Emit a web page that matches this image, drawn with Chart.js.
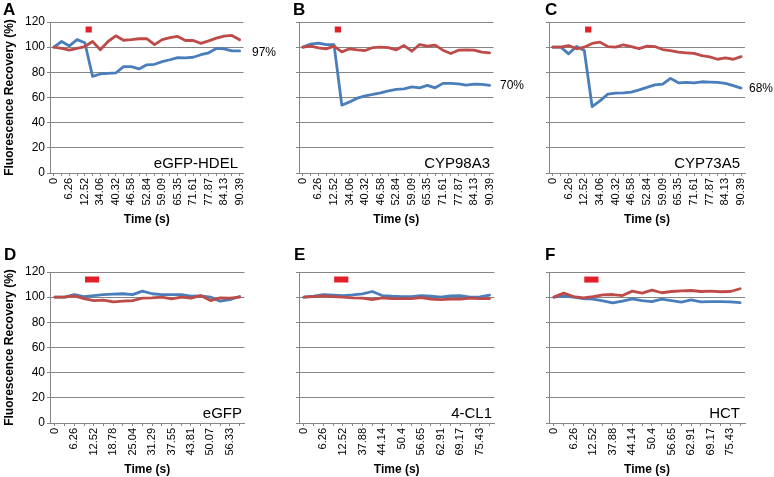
<!DOCTYPE html>
<html>
<head>
<meta charset="utf-8">
<script src="https://cdn.jsdelivr.net/npm/chart.js@4.4.1/dist/chart.umd.min.js"></script>
<style>
    body { margin: 0; background: #fff; font-family: "Liberation Sans", Arial, sans-serif; }
    #fig { position: relative; width: 774px; height: 477px; overflow: hidden; background: #fff; }
    .txt { position: absolute; white-space: nowrap; color: #000; }
    .letter { font-weight: bold; font-size: 17px; line-height: 17px; }
    .gene { font-size: 15px; line-height: 15px; text-align: right; }
    .pct { font-size: 12px; line-height: 12px; }
</style>
</head>
<body>
<div id="fig">
    <div class="txt letter" style="left:3px;top:1px">A</div>
    <div class="txt letter" style="left:293px;top:1px">B</div>
    <div class="txt letter" style="left:545px;top:1px">C</div>
    <div class="txt letter" style="left:4px;top:246px">D</div>
    <div class="txt letter" style="left:294px;top:246px">E</div>
    <div class="txt letter" style="left:545px;top:246px">F</div>

    <div class="txt gene" style="right:536px;top:155px">eGFP-HDEL</div>
    <div class="txt gene" style="right:284px;top:155px">CYP98A3</div>
    <div class="txt gene" style="right:34px;top:155px">CYP73A5</div>
    <div class="txt gene" style="right:532px;top:405px">eGFP</div>
    <div class="txt gene" style="right:282px;top:405px">4-CL1</div>
    <div class="txt gene" style="right:34px;top:405px">HCT</div>

    <div class="txt pct" style="left:252px;top:46px">97%</div>
    <div class="txt pct" style="left:500px;top:79px">70%</div>
    <div class="txt pct" style="left:749px;top:82px">68%</div>
</div>
<script>
// time labels (s) per category
const timeTop = ["0", "3.13", "6.26", "9.39", "12.52", "30.93", "34.06", "37.19", "40.32", "43.45",
    "46.58", "49.71", "52.84", "55.97", "59.09", "62.22", "65.35", "68.48", "71.61", "74.74",
    "77.87", "81.00", "84.13", "87.26", "90.39"];
const timeD = ["0", "3.13", "6.26", "9.39", "12.52", "15.65", "18.78", "21.91", "25.04", "28.16",
    "31.29", "34.42", "37.55", "40.68", "43.81", "46.94", "50.07", "53.20", "56.33", "59.46"];
const timeEF = ["0", "3.13", "6.26", "9.39", "12.52", "34.75", "37.88", "41.01", "44.14", "47.27",
    "50.4", "53.52", "56.65", "59.78", "62.91", "66.04", "69.17", "72.30", "75.43", "78.56"];

// bleached region (blue) and unbleached control (red), % recovery
const hdelBleach = [100, 104.5, 101, 106, 103.5, 76.8, 78.7, 79.2, 79.5, 84.5, 84.5, 82.7, 86, 86.4, 88.5, 90, 91.7, 91.5, 92, 94, 95.5, 99, 98.7, 97, 97];
const hdelControl = [100, 99, 97.6, 99, 100.5, 104.5, 98, 104.5, 109, 105.5, 106, 106.7, 106.7, 102, 106, 107.5, 108.5, 105.3, 105.3, 103, 105, 107.2, 108.8, 109.3, 105.9];
const cyp98Bleach = [100, 102.4, 103.2, 102, 102, 53.9, 56.5, 59.5, 61.3, 62.4, 63.7, 65.3, 66.4, 66.9, 68.5, 67.7, 69.6, 67.7, 71.2, 71.2, 70.9, 69.9, 70.7, 70.4, 69.6];
const cyp98Control = [100, 100.8, 99.5, 98.7, 100.8, 96.3, 98.7, 97.9, 97.3, 99.7, 100, 99.7, 97.9, 101.3, 96.8, 102.1, 100.8, 101.6, 97.6, 94.9, 97.6, 97.9, 97.6, 96, 95.5];
const cyp73Bleach = [100, 100, 94.7, 100.5, 97.3, 52.8, 57.3, 62.7, 63.5, 63.7, 64.3, 66, 68, 70, 70.6, 75.2, 71.7, 72, 71.7, 72.5, 72.2, 72, 71.2, 69.5, 67.5];
const cyp73Control = [100, 100, 101.3, 98.7, 100, 103, 104, 100.5, 100, 101.9, 100.5, 98.9, 100.8, 100.5, 98.1, 97.3, 96, 95.5, 95, 93.3, 92.3, 90.4, 91.5, 90.4, 92.5];
const egfpBleach = [100, 100, 102, 100.5, 101.3, 102, 102.4, 102.7, 102, 104.8, 102.7, 102, 102, 102, 100.8, 101, 100, 96.8, 98.1, 100.5];
const egfpControl = [100, 100, 101, 98.9, 97.3, 97.6, 96.3, 96.8, 97.3, 99.2, 99.5, 100, 98.7, 100, 99.2, 101.3, 97.3, 99.5, 99.2, 100];
const cl1Bleach = [100, 100.8, 102, 101.6, 101.3, 101.9, 102.7, 104.5, 101.3, 100.8, 100.5, 100.5, 101.3, 100.8, 100, 101, 101.3, 100, 100.3, 101.6];
const cl1Control = [100, 100.5, 101, 100.5, 100, 99.5, 99.2, 98.1, 99.5, 98.9, 98.9, 98.9, 99.7, 98.4, 98.1, 98.4, 98.4, 99.2, 98.9, 98.9];
const hctBleach = [100, 100.8, 100, 98.9, 98.4, 97, 95.5, 96.8, 98.7, 97.3, 96.5, 98.4, 97.3, 96, 97.9, 96.3, 96.5, 96.5, 96.3, 95.7];
const hctControl = [100, 103.2, 100.5, 99.5, 100.5, 101.9, 102.1, 101.3, 104.8, 103.2, 105.6, 103.5, 104.5, 105, 105.3, 104.5, 104.8, 104.3, 104.5, 106.7];

// bleach pulse: start/end category position, drawn at this level
const pulseTop = [4.1, 4.9];
const pulseBottom = [3.1, 4.55];
const pulseLevel = 114;

const BLUE = "#4a7ebb";
const RED = "#be4b48";
const PULSE = "#e3202a";
const GRID = "#868686";
const FONT = "'Liberation Sans', Arial, sans-serif";

const fig = document.getElementById("fig");

const panels = [
    { left: 0, top: 0, w: 255, h: 240, pl: 50, pr: 247, pt: 22, pb: 173, xh: 62, tpad: 8, labels: timeTop, blue: hdelBleach, red: hdelControl, pulse: pulseTop, yLab: true },
    { left: 255, top: 0, w: 250, h: 240, pl: 299, pr: 495, pt: 22, pb: 173, xh: 62, tpad: 8, labels: timeTop, blue: cyp98Bleach, red: cyp98Control, pulse: pulseTop, yLab: false },
    { left: 505, top: 0, w: 269, h: 240, pl: 549, pr: 745, pt: 22, pb: 173, xh: 62, tpad: 8, labels: timeTop, blue: cyp73Bleach, red: cyp73Control, pulse: pulseTop, yLab: false },
    { left: 0, top: 240, w: 255, h: 237, pl: 50, pr: 247, pt: 272, pb: 423, xh: 54, tpad: 0, labels: timeD, blue: egfpBleach, red: egfpControl, pulse: pulseBottom, yLab: true },
    { left: 255, top: 240, w: 250, h: 237, pl: 299, pr: 495, pt: 272, pb: 423, xh: 54, tpad: 0, labels: timeEF, blue: cl1Bleach, red: cl1Control, pulse: pulseBottom, yLab: false },
    { left: 505, top: 240, w: 269, h: 237, pl: 549, pr: 745, pt: 272, pb: 423, xh: 54, tpad: 0, labels: timeEF, blue: hctBleach, red: hctControl, pulse: pulseBottom, yLab: false },
];

function drawPanel(p) {
    const cv = document.createElement("canvas");
    cv.width = p.w;
    cv.height = p.h;
    cv.style.cssText = `position:absolute;left:${p.left}px;top:${p.top}px;width:${p.w}px;height:${p.h}px`;
    fig.insertBefore(cv, fig.firstChild);

    const pts = (arr) => arr.map((v, i) => ({ x: i, y: v }));
    const lineStyle = { pointRadius: 0, borderWidth: 2.8, tension: 0, borderJoinStyle: "round", borderCapStyle: "round", fill: false };

    new Chart(cv, {
        type: "line",
        data: {
            datasets: [
                { ...lineStyle, label: "control", data: pts(p.red), borderColor: RED },
                { ...lineStyle, label: "bleached", data: pts(p.blue), borderColor: BLUE },
                {
                    label: "pulse",
                    data: p.pulse.map((x) => ({ x, y: pulseLevel })),
                    borderColor: PULSE,
                    borderWidth: 6,
                    borderCapStyle: "butt",
                    pointRadius: 0,
                },
            ],
        },
        options: {
            responsive: false,
            animation: false,
            events: [],
            layout: {
                padding: {
                    left: 0,
                    top: p.pt - p.top,
                    right: p.left + p.w - p.pr,
                    bottom: p.top + p.h - p.pb - p.xh,
                },
            },
            plugins: { legend: { display: false }, tooltip: { enabled: false } },
            scales: {
                x: {
                    type: "linear",
                    min: -0.5,
                    max: p.labels.length - 0.5,
                    afterBuildTicks: (s) => {
                        s.ticks = p.labels.map((_, i) => ({ value: i }));
                    },
                    afterFit: (s) => {
                        s.height = p.xh;
                    },
                    grid: { drawOnChartArea: false, color: GRID, tickLength: 3 },
                    border: { color: GRID },
                    ticks: {
                        autoSkip: false,
                        minRotation: 90,
                        maxRotation: 90,
                        padding: 2,
                        color: "#000",
                        font: { family: FONT, size: 11 },
                        callback: (v) => (v % 2 === 0 ? p.labels[v] : ""),
                    },
                    title: {
                        display: true,
                        text: "Time (s)",
                        color: "#000",
                        font: { family: FONT, size: 12, weight: "bold" },
                        padding: { top: 0, bottom: p.tpad },
                    },
                },
                y: {
                    min: 0,
                    max: 120,
                    afterFit: (s) => {
                        s.width = p.pl - p.left;
                    },
                    grid: { color: GRID, tickLength: 3 },
                    border: { color: GRID },
                    ticks: {
                        stepSize: 20,
                        display: p.yLab,
                        padding: 2,
                        color: "#000",
                        font: { family: FONT, size: 12 },
                    },
                    title: {
                        display: p.yLab,
                        text: "Fluorescence Recovery (%)",
                        color: "#000",
                        font: { family: FONT, size: 12, weight: "bold" },
                        padding: { top: 2, bottom: 0 },
                    },
                },
            },
        },
    });
}

panels.forEach(drawPanel);
</script>
</body>
</html>
